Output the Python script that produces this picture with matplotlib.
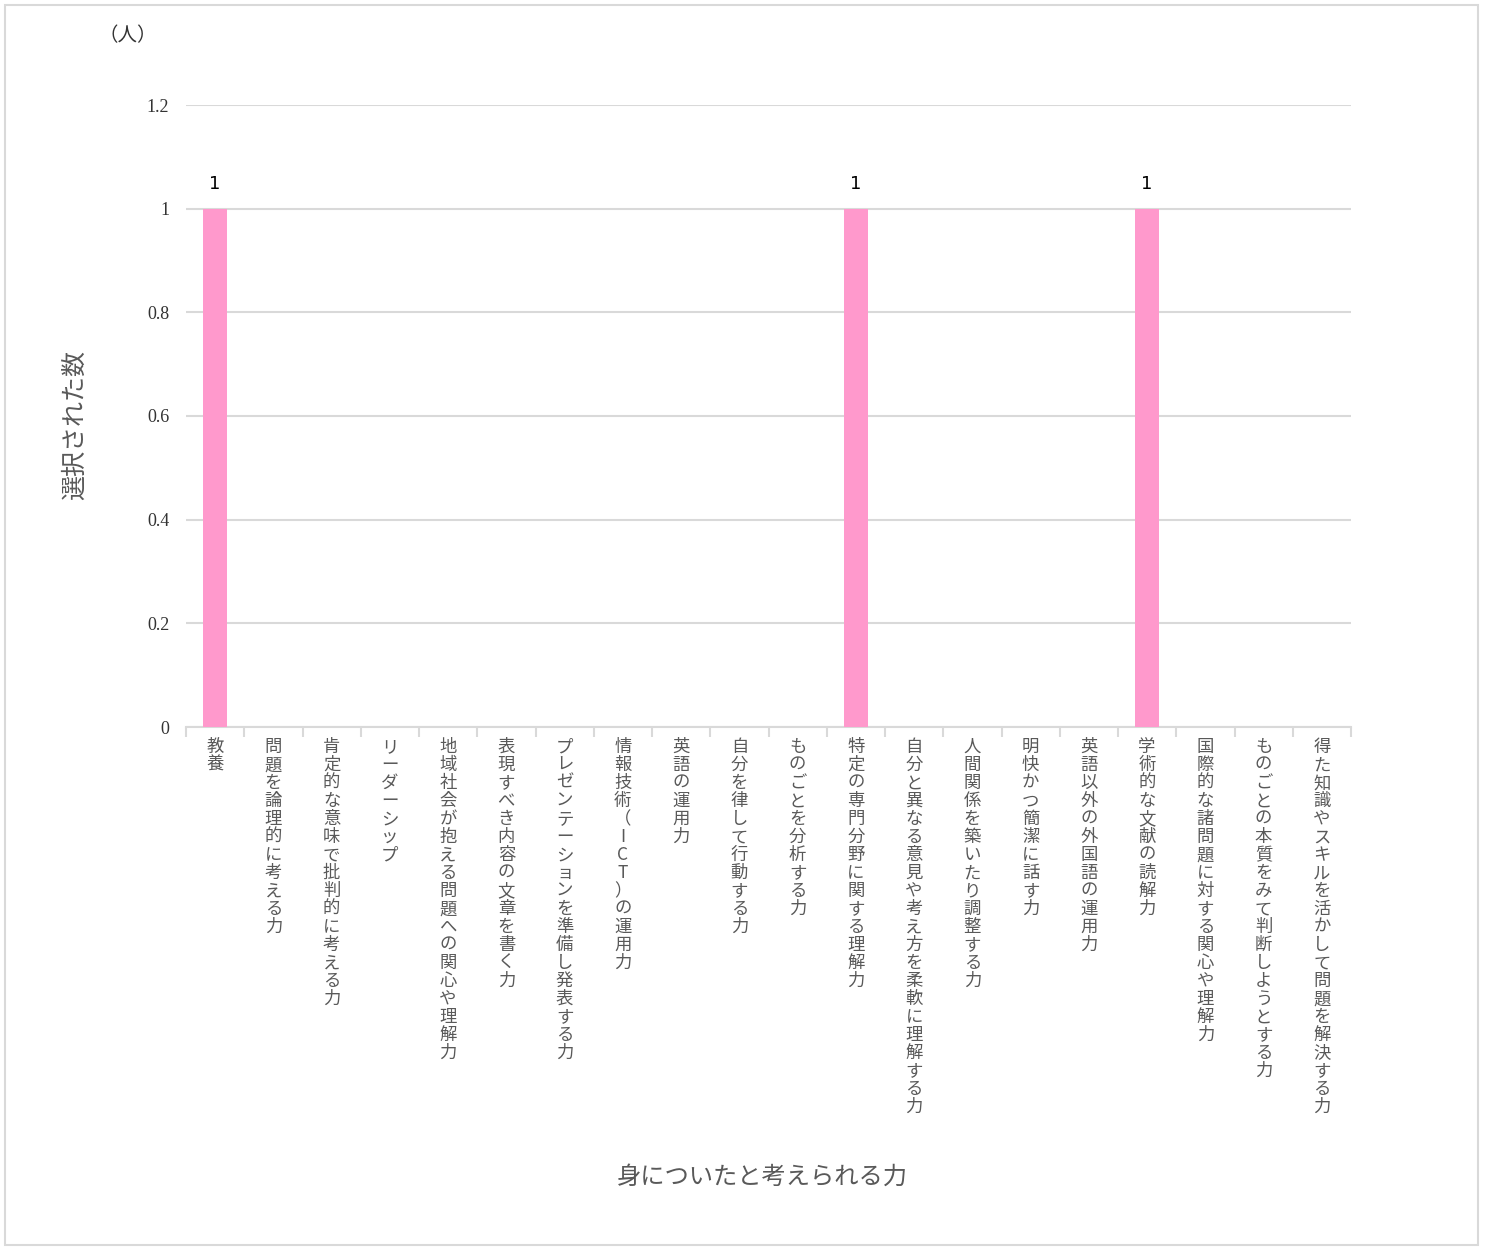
import matplotlib
matplotlib.use("Agg")
import matplotlib.pyplot as plt
from matplotlib.patches import Rectangle

plt.rcParams['font.family'] = ['Noto Sans CJK JP', 'DejaVu Sans']

categories = [
    "教養",
    "問題を論理的に考える力",
    "肯定的な意味で批判的に考える力",
    "リーダーシップ",
    "地域社会が抱える問題への関心や理解力",
    "表現すべき内容の文章を書く力",
    "プレゼンテーションを準備し発表する力",
    "情報技術（ICT）の運用力",
    "英語の運用力",
    "自分を律して行動する力",
    "ものごとを分析する力",
    "特定の専門分野に関する理解力",
    "自分と異なる意見や考え方を柔軟に理解する力",
    "人間関係を築いたり調整する力",
    "明快かつ簡潔に話す力",
    "英語以外の外国語の運用力",
    "学術的な文献の読解力",
    "国際的な諸問題に対する関心や理解力",
    "ものごとの本質をみて判断しようとする力",
    "得た知識やスキルを活かして問題を解決する力",
]
values = [1, 0, 0, 0, 0, 0, 0, 0, 0, 0, 0, 1, 0, 0, 0, 0, 1, 0, 0, 0]
yticks = [0, 0.2, 0.4, 0.6, 0.8, 1, 1.2]
ytick_labels = ["0", "0.2", "0.4", "0.6", "0.8", "1", "1.2"]

W, H = 1488, 1250
fig = plt.figure(figsize=(W / 100, H / 100), dpi=100)
fig.patches.append(Rectangle((5 / W, 5 / H), 1473 / W, 1240 / H, transform=fig.transFigure,
                             fill=False, edgecolor="#d9d9d9", linewidth=1.5))

ax = fig.add_axes([186 / W, (H - 727) / H, (1351 - 186) / W, (727 - 105) / H])
x = list(range(len(categories)))
ax.bar(x, values, width=0.4, color="#ff99cc", zorder=3)
ax.set_xlim(-0.5, len(categories) - 0.5)
ax.set_ylim(0, 1.2)

for xi, v in zip(x, values):
    if v > 0:
        ax.annotate(f"{v}", (xi, v), xytext=(0, 11), textcoords="offset points",
                    ha="center", va="bottom", fontsize=13, color="black",
                    family=['DejaVu Sans'])

ax.set_yticks(yticks)
ax.set_yticklabels(ytick_labels, family=['Liberation Serif'], fontsize=13, color="#333333")
ax.tick_params(axis='y', length=0, pad=12)
ax.yaxis.grid(True, color="#d9d9d9", linewidth=1.5, zorder=0)
for s in ["top", "right", "left"]:
    ax.spines[s].set_visible(False)
ax.spines["bottom"].set_color("#d9d9d9")
ax.spines["bottom"].set_linewidth(1.5)

ax.set_xticks(x)
ax.set_xticklabels(["\n".join(c) for c in categories], fontsize=12.5, color="#595959",
                   va="top", linespacing=1.0)
ax.tick_params(axis='x', length=0, pad=8)
ax.set_xticks([i - 0.5 for i in range(len(categories) + 1)], minor=True)
ax.tick_params(axis='x', which='minor', length=7, color="#d9d9d9", width=1.5)

fig.text(75 / W, (H - 425) / H, "選択された数", rotation=90, ha="center", va="center",
         fontsize=18, color="#595959")
fig.text(762 / W, (H - 1177) / H, "身についたと考えられる力", ha="center", va="center",
         fontsize=17.5, color="#595959")
fig.text(128 / W, (H - 36) / H, "（人）", ha="center", va="center", fontsize=14, color="#333333")

fig.savefig("out.png", dpi=100)
